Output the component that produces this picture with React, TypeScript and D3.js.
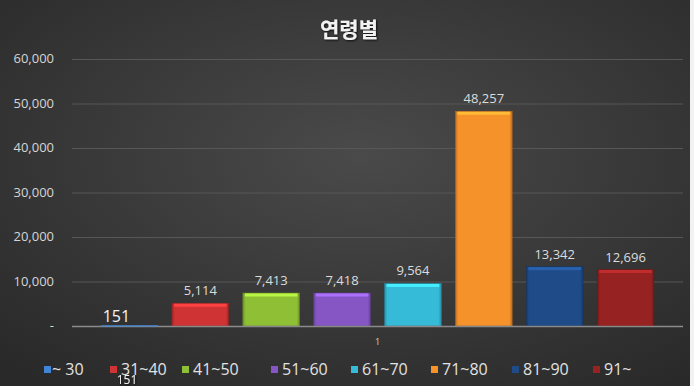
import React, { useEffect, useRef } from "react";
import * as d3 from "d3";

const seriesNames = ["~ 30", "31~40", "41~50", "51~60", "61~70", "71~80", "81~90", "91~"];
const seriesValues = [151, 5114, 7413, 7418, 9564, 48257, 13342, 12696];
const seriesColors = ["#3f86d6", "#cf3333", "#8fbf35", "#8657c4", "#35bad8", "#f5922a", "#1f4c88", "#962222"];
const yTicks = [0, 10000, 20000, 30000, 40000, 50000, 60000];
const categoryLabel = "1";
const legendX = [44, 110, 182, 271, 351, 431, 512, 593];

const W = 694;
const H = 386;

export default function App() {
  const svgRef = useRef<SVGSVGElement>(null);

  useEffect(() => {
    document.body.style.margin = "0";
    const svg = d3.select(svgRef.current);
    svg.selectAll("*").remove();

    const defs = svg.append("defs");
    const bg = defs.append("radialGradient").attr("id", "bg")
      .attr("cx", "52%").attr("cy", "40%").attr("r", "75%");
    bg.append("stop").attr("offset", "0%").attr("stop-color", "#4a4a4a");
    bg.append("stop").attr("offset", "100%").attr("stop-color", "#292929");

    seriesColors.forEach((c, i) => {
      const g = defs.append("linearGradient").attr("id", `bar${i}`).attr("x1", "0").attr("x2", "1");
      g.append("stop").attr("offset", "0%").attr("stop-color", d3.color(c)!.darker(0.7).toString());
      g.append("stop").attr("offset", "5%").attr("stop-color", c);
      g.append("stop").attr("offset", "95%").attr("stop-color", c);
      g.append("stop").attr("offset", "100%").attr("stop-color", d3.color(c)!.darker(0.7).toString());
    });

    const shadow = defs.append("filter").attr("id", "ts");
    shadow.append("feDropShadow").attr("dx", 1).attr("dy", 1).attr("stdDeviation", 1)
      .attr("flood-color", "#000").attr("flood-opacity", 0.8);

    svg.append("rect").attr("width", W).attr("height", H).attr("fill", "url(#bg)");
    // right white edge
    svg.append("rect").attr("x", 690).attr("width", 4).attr("height", H).attr("fill", "#f2f2f2");

    const left = 72, right = 683, top = 59, bottom = 326;
    const y = d3.scaleLinear().domain([0, 60000]).range([bottom, top]);
    const x = d3.scaleBand<string>().domain(seriesNames).range([94, 661]).paddingInner(0.2).paddingOuter(0.1);

    // grid
    svg.append("g").selectAll("line").data(yTicks.filter((d) => d > 0)).enter().append("line")
      .attr("x1", left).attr("x2", right)
      .attr("y1", (d) => y(d) + 0.5).attr("y2", (d) => y(d) + 0.5)
      .attr("stroke", "#575757").attr("stroke-width", 1);

    // y tick labels
    svg.append("g").selectAll("text").data(yTicks).enter().append("text")
      .attr("x", 54).attr("y", (d) => y(d) + 4)
      .attr("text-anchor", "end")
      .attr("fill", "#d6d6d6")
      .style("font-family", "'Open Sans', 'Noto Sans', sans-serif")
      .style("font-size", "13px")
      .text((d) => (d === 0 ? "-" : d3.format(",")(d)));

    // bars
    const data = seriesNames.map((name, i) => ({ name, value: seriesValues[i], i }));
    const bars = svg.append("g");
    bars.selectAll("rect.bar").data(data).enter().append("rect").attr("class", "bar")
      .attr("x", (d) => x(d.name)!)
      .attr("y", (d) => y(d.value))
      .attr("width", x.bandwidth())
      .attr("height", (d) => bottom - y(d.value))
      .attr("fill", (d) => `url(#bar${d.i})`)
      .attr("stroke", (d) => d3.color(seriesColors[d.i])!.darker(1).toString())
      .attr("stroke-width", 0.6);
    bars.selectAll("rect.hl").data(data.filter((d) => d.value > 1000)).enter().append("rect").attr("class", "hl")
      .attr("x", (d) => x(d.name)! + 2)
      .attr("y", (d) => y(d.value) + 0.5)
      .attr("width", x.bandwidth() - 4)
      .attr("height", 3)
      .attr("fill", (d) => d3.color(seriesColors[d.i])!.brighter(0.7).toString());

    // baseline
    svg.append("line").attr("x1", left).attr("x2", right)
      .attr("y1", bottom + 0.5).attr("y2", bottom + 0.5)
      .attr("stroke", "#8a8a8a").attr("stroke-width", 1.5);
    svg.append("line").attr("x1", x(seriesNames[0])!).attr("x2", x(seriesNames[0])! + x.bandwidth())
      .attr("y1", bottom).attr("y2", bottom)
      .attr("stroke", seriesColors[0]).attr("stroke-width", 1);

    // value labels
    svg.append("g").selectAll("text").data(data).enter().append("text")
      .attr("x", (d) => x(d.name)! + x.bandwidth() / 2 - (d.i === 0 ? 13 : 0))
      .attr("y", (d) => (d.i === 0 ? bottom - 4 : y(d.value) - 8))
      .attr("text-anchor", "middle")
      .attr("fill", (d) => (d.i === 0 ? "#f4f4f4" : "#dcdcdc"))
      .style("font-family", "'Open Sans', 'Noto Sans', sans-serif")
      .style("font-size", (d) => (d.i === 0 ? "16px" : "13px"))
      .text((d) => d3.format(",")(d.value));

    // category label
    svg.append("text").attr("x", (94 + 661) / 2).attr("y", 345)
      .attr("text-anchor", "middle").attr("fill", "#cfcfcf")
      .style("font-family", "'Open Sans', sans-serif").style("font-size", "9px")
      .text(categoryLabel);

    // title
    svg.append("text").attr("x", 349).attr("y", 37)
      .attr("text-anchor", "middle").attr("fill", "#f2f2f2")
      .attr("filter", "url(#ts)")
      .style("font-family", "'Noto Sans CJK KR', sans-serif")
      .style("font-size", "21px").style("font-weight", "bold")
      .text("연령별");

    // legend
    const lg = svg.append("g").selectAll("g").data(data).enter().append("g")
      .attr("transform", (d) => `translate(${legendX[d.i]},366)`);
    lg.append("rect").attr("width", 7).attr("height", 7).attr("y", 0)
      .attr("fill", (d) => seriesColors[d.i]);
    lg.append("text").attr("x", (d) => (d.i === 0 ? 8 : 11)).attr("y", 9)
      .attr("fill", "#e2e2e2")
      .style("font-family", "'Open Sans', 'Noto Sans', sans-serif")
      .style("font-size", "16px")
      .text((d) => d.name);

    // stray data label below legend
    svg.append("text").attr("x", 127).attr("y", 384)
      .attr("text-anchor", "middle").attr("fill", "#f0f0f0")
      .attr("filter", "url(#ts)")
      .style("font-family", "'Open Sans', sans-serif").style("font-size", "12px")
      .text(d3.format(",")(seriesValues[0]));
  }, []);

  return <svg ref={svgRef} width={W} height={H} style={{ display: "block" }}></svg>;
}
